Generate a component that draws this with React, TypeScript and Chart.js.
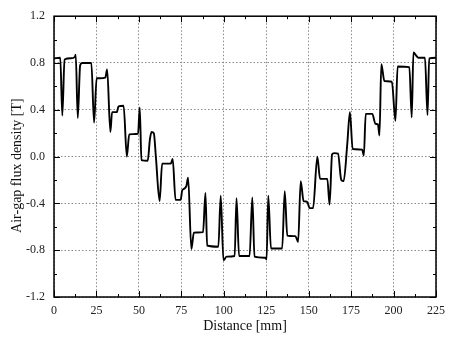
import React, { useEffect, useRef } from 'react';
import { Chart, registerables } from 'chart.js';

Chart.register(...registerables);

const distance = [
  0, 3.7, 4.9, 6.2, 10, 12.2, 12.8, 14.0, 15.4, 16.5, 22.0, 23.6, 25.1, 27, 30.2, 31.3,
  33.2, 34.2, 37.0, 38.0, 41.0, 42.9, 44.3, 49.5, 50.5, 51.5, 55.2, 56.5, 57.5, 58.8,
  60, 62.2, 63.7, 68.8, 69.9, 71.6, 74.6, 75.5, 76.6, 78.0, 79.0, 80.9, 82.4, 87.8,
  89.2, 90.2, 96.8, 98.2, 99.8, 101.7, 106.4, 107.5, 109.0, 115.2, 116.8, 118.1, 124.5,
  125.2, 126.2, 127.8, 134.4, 135.9, 137.4, 142.2, 143.8, 145.3, 147, 149, 150.6, 152.6,
  155.1, 156.7, 161.0, 162.3, 163.8, 165, 167.3, 169.2, 170.6, 172.7, 174.3, 175.9,
  181.5, 182.5, 183.6, 187.5, 189.3, 190.8, 191.7, 192.8, 194.6, 199.0, 201.1, 202.4,
  209.3, 210.7, 211.7, 213.5, 214.6, 218.5, 220.0, 221.0, 225,
];

const flux = [
  0.84, 0.845, 0.35, 0.83, 0.84, 0.85, 0.87, 0.33, 0.78, 0.8, 0.8, 0.29, 0.67, 0.67, 0.675, 0.745,
  0.21, 0.38, 0.38, 0.43, 0.435, 0.0, 0.19, 0.195, 0.42, -0.03, -0.035, 0.15, 0.21, 0.2,
  0.0, -0.38, -0.06, -0.06, -0.02, -0.37, -0.37, -0.29, -0.275, -0.25, -0.18, -0.79, -0.65, -0.645,
  -0.31, -0.76, -0.77, -0.335, -0.885, -0.855, -0.85, -0.355, -0.85, -0.85, -0.35, -0.855, -0.865,
  -0.88, -0.335, -0.785, -0.785, -0.295, -0.675, -0.68, -0.73, -0.21, -0.38, -0.385, -0.44, -0.44,
  0.0, -0.19, -0.19, -0.41, 0.02, 0.03, 0.025, -0.2, -0.21, 0.1, 0.38, 0.065,
  0.06, 0.01, 0.365, 0.365, 0.28, 0.275, 0.18, 0.79, 0.645, 0.64, 0.305, 0.77,
  0.765, 0.335, 0.89, 0.86, 0.845, 0.845, 0.355, 0.84, 0.845,
];

const xTickValues = [0, 25, 50, 75, 100, 125, 150, 175, 200, 225];
const yTickValues = [-1.2, -0.8, -0.4, 0.0, 0.4, 0.8, 1.2];
const xTitle = 'Distance [mm]';
const yTitle = 'Air-gap flux density [T]';

const FONT = '"Liberation Serif", "Times New Roman", serif';

const frameTicks = {
  id: 'frameTicks',
  afterDraw(chart: any) {
    const { ctx, chartArea: a, scales } = chart;
    const xs = scales.x;
    const ys = scales.y;
    ctx.save();
    ctx.setLineDash([]);
    ctx.strokeStyle = '#000';
    ctx.lineWidth = 1;
    const xMinor: number[] = [];
    for (let i = 0; i < xTickValues.length - 1; i++) xMinor.push((xTickValues[i] + xTickValues[i + 1]) / 2);
    const yMinor: number[] = [];
    for (let i = 0; i < yTickValues.length - 1; i++) yMinor.push((yTickValues[i] + yTickValues[i + 1]) / 2);
    ctx.beginPath();
    const drawX = (v: number, len: number) => {
      const px = Math.round(xs.getPixelForValue(v)) + 0.5;
      ctx.moveTo(px, a.bottom);
      ctx.lineTo(px, a.bottom - len);
      ctx.moveTo(px, a.top);
      ctx.lineTo(px, a.top + len);
    };
    const drawY = (v: number, len: number) => {
      const py = Math.round(ys.getPixelForValue(v)) + 0.5;
      ctx.moveTo(a.left, py);
      ctx.lineTo(a.left + len, py);
      ctx.moveTo(a.right, py);
      ctx.lineTo(a.right - len, py);
    };
    xTickValues.forEach((v) => drawX(v, 6));
    xMinor.forEach((v) => drawX(v, 3));
    yTickValues.forEach((v) => drawY(v, 6));
    yMinor.forEach((v) => drawY(v, 3));
    ctx.stroke();
    ctx.lineWidth = 1.5;
    ctx.strokeRect(a.left, a.top, a.right - a.left, a.bottom - a.top);

    // y-axis title
    ctx.fillStyle = '#111';
    ctx.font = `14px ${FONT}`;
    ctx.textAlign = 'center';
    ctx.textBaseline = 'middle';
    ctx.translate(17, (a.top + a.bottom) / 2 + 9);
    ctx.rotate(-Math.PI / 2);
    ctx.fillText(yTitle, 0, 0);
    ctx.restore();
  },
};

export default function App() {
  const ref = useRef<HTMLCanvasElement | null>(null);

  useEffect(() => {
    if (!ref.current) return;
    const points = distance.map((d, i) => ({ x: d, y: flux[i] }));
    const chart = new Chart(ref.current, {
      type: 'line',
      data: {
        datasets: [
          {
            data: points,
            borderColor: '#000',
            borderWidth: 1.9,
            pointRadius: 0,
            cubicInterpolationMode: 'monotone',
            fill: false,
          },
        ],
      },
      options: {
        animation: false,
        responsive: false,
        devicePixelRatio: 1,
        parsing: false as any,
        layout: { padding: { top: 12, right: 9, left: 0, bottom: 0 } },
        plugins: { legend: { display: false }, tooltip: { enabled: false } },
        scales: {
          x: {
            type: 'linear',
            min: 0,
            max: 225,
            afterBuildTicks: (s: any) => {
              s.ticks = xTickValues.map((v) => ({ value: v }));
            },
            afterFit: (s: any) => {
              s.height = 50;
            },
            ticks: {
              color: '#222',
              font: { family: FONT, size: 12 },
              padding: 7,
              maxRotation: 0,
              callback: (v: any) => String(v),
            },
            grid: { color: '#8a8a8a', lineWidth: 1, drawTicks: false },
            border: { display: false, dash: [1.5, 2] },
            title: {
              display: true,
              text: xTitle,
              color: '#111',
              font: { family: FONT, size: 14 },
              padding: { top: 0, bottom: 12 },
            },
          },
          y: {
            type: 'linear',
            min: -1.2,
            max: 1.2,
            afterBuildTicks: (s: any) => {
              s.ticks = yTickValues.map((v) => ({ value: v }));
            },
            afterFit: (s: any) => {
              s.width = 54;
            },
            ticks: {
              color: '#222',
              font: { family: FONT, size: 12 },
              padding: 9,
              callback: (v: any) => Number(v).toFixed(1),
            },
            grid: { color: '#8a8a8a', lineWidth: 1, drawTicks: false },
            border: { display: false, dash: [1.5, 2] },
            title: { display: false },
          },
        },
      },
      plugins: [frameTicks],
    });
    return () => chart.destroy();
  }, []);

  return (
    <div style={{ position: 'fixed', left: 0, top: 0, width: 452, height: 347, background: '#fff' }}>
      <canvas ref={ref} width={452} height={347} style={{ width: 452, height: 347, display: 'block' }} />
    </div>
  );
}
